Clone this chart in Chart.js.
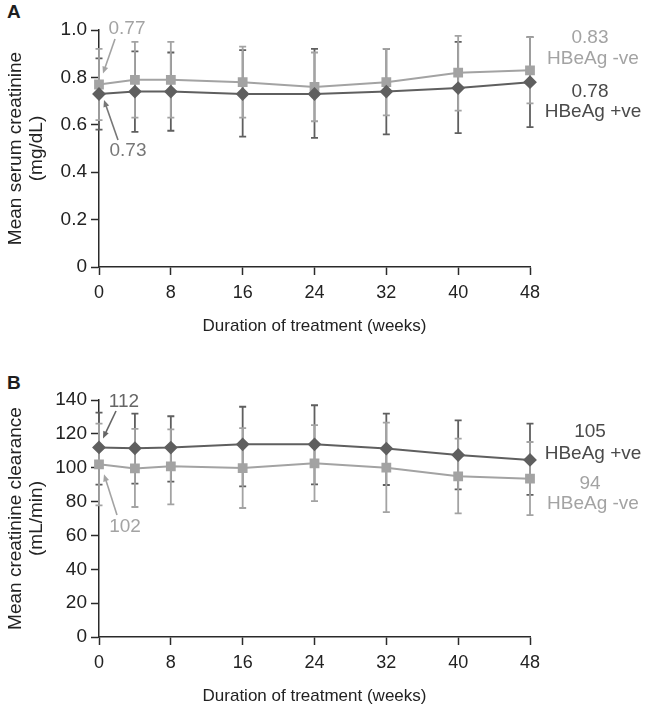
<!DOCTYPE html>
<html>
<head>
<meta charset="utf-8">
<script src="https://cdn.jsdelivr.net/npm/chart.js@4.4.0/dist/chart.umd.min.js"></script>
<style>
  body { margin: 0; background: #fff; }
  .panel { position: absolute; left: 0; width: 649px; height: 341px; }
  #panelA { top: 0; }
  #panelB { top: 370px; }
  .letter { position: absolute; left: 7px; font: bold 19px 'Liberation Sans', Arial, sans-serif; color: #1e1e1e; }
</style>
</head>
<body>
<div class="letter" style="top: 1px">A</div>
<div class="panel" id="panelA"><canvas id="chartA"></canvas></div>
<div class="letter" style="top: 372px">B</div>
<div class="panel" id="panelB"><canvas id="chartB"></canvas></div>
<script>
// weeks on treatment
const weeks = [0, 4, 8, 16, 24, 32, 40, 48];
const weekTicks = [0, 8, 16, 24, 32, 40, 48];

// A: serum creatinine (mg/dL), mean with upper/lower bar ends
const creatTicks = [0, 0.2, 0.4, 0.6, 0.8, 1.0];
const creatPos = [0.73, 0.74, 0.74, 0.73, 0.73, 0.74, 0.755, 0.78];
const creatPosHi = [0.88, 0.91, 0.905, 0.915, 0.92, 0.92, 0.95, 0.97];
const creatPosLo = [0.58, 0.57, 0.575, 0.55, 0.545, 0.56, 0.565, 0.59];
const creatNeg = [0.77, 0.79, 0.79, 0.78, 0.76, 0.78, 0.82, 0.83];
const creatNegHi = [0.92, 0.95, 0.95, 0.93, 0.905, 0.92, 0.975, 0.97];
const creatNegLo = [0.62, 0.63, 0.63, 0.63, 0.615, 0.64, 0.66, 0.69];

// B: creatinine clearance (mL/min)
const clearTicks = [0, 20, 40, 60, 80, 100, 120, 140];
const clearPos = [112, 111.5, 111.9, 113.8, 113.8, 111.3, 107.5, 104.6];
const clearPosHi = [132.5, 132, 130.4, 136, 136.9, 132, 128, 126];
const clearPosLo = [90, 90.6, 91.8, 89, 90.2, 89.8, 87.2, 83.9];
const clearNeg = [102, 99.6, 100.8, 99.8, 102.6, 100, 94.9, 93.5];
const clearNegHi = [126, 123, 122.7, 123.4, 125.2, 126.6, 117.2, 115.2];
const clearNegLo = [77.8, 76.8, 78.4, 76.2, 80.3, 73.8, 73, 72];

const DARK = '#5f5f5f';
const LIGHT = '#a3a3a3';
const AXIS = '#2a2a2a';
const FONT = "'Liberation Sans', Arial, Helvetica, sans-serif";

// vertical bars with small caps, drawn under the markers
const errorBars = {
  id: 'errorBars',
  beforeDatasetsDraw(chart) {
    const ctx = chart.ctx, xs = chart.scales.x, ys = chart.scales.y;
    chart.data.datasets.forEach(ds => {
      ctx.save();
      ctx.strokeStyle = ds.borderColor;
      ctx.lineWidth = 1.8;
      ds.data.forEach((p, i) => {
        const px = xs.getPixelForValue(p.x);
        const top = ys.getPixelForValue(ds.hi[i]);
        const bot = ys.getPixelForValue(ds.lo[i]);
        ctx.beginPath();
        ctx.moveTo(px, top); ctx.lineTo(px, bot);
        ctx.moveTo(px - 3.5, top); ctx.lineTo(px + 3.5, top);
        ctx.moveTo(px - 3.5, bot); ctx.lineTo(px + 3.5, bot);
        ctx.stroke();
      });
      ctx.restore();
    });
  }
};

function arrow(ctx, x1, y1, x2, y2, color) {
  const a = Math.atan2(y2 - y1, x2 - x1);
  ctx.strokeStyle = color;
  ctx.fillStyle = color;
  ctx.lineWidth = 1.6;
  ctx.beginPath();
  ctx.moveTo(x1, y1);
  ctx.lineTo(x2 - 5 * Math.cos(a), y2 - 5 * Math.sin(a));
  ctx.stroke();
  ctx.beginPath();
  ctx.moveTo(x2, y2);
  ctx.lineTo(x2 - 7 * Math.cos(a) + 3 * Math.sin(a), y2 - 7 * Math.sin(a) - 3 * Math.cos(a));
  ctx.lineTo(x2 - 7 * Math.cos(a) - 3 * Math.sin(a), y2 - 7 * Math.sin(a) + 3 * Math.cos(a));
  ctx.closePath();
  ctx.fill();
}

// start values with arrows, end values with group names
const notes = {
  id: 'notes',
  afterDatasetsDraw(chart, args, opts) {
    const ctx = chart.ctx, xs = chart.scales.x, ys = chart.scales.y;
    ctx.save();
    ctx.font = '19px ' + FONT;
    ctx.textAlign = 'center';
    ctx.textBaseline = 'middle';
    (opts.starts || []).forEach(n => {
      const ds = chart.data.datasets[n.ds];
      const p = ds.data[0];
      const px = xs.getPixelForValue(p.x), py = ys.getPixelForValue(p.y);
      ctx.fillStyle = n.color;
      ctx.fillText(n.fmt(p.y), n.tx, n.ty);
      arrow(ctx, n.from[0], n.from[1], px + n.to[0], py + n.to[1], n.color);
    });
    (opts.ends || []).forEach(n => {
      const ds = chart.data.datasets[n.ds];
      const p = ds.data[ds.data.length - 1];
      const py = ys.getPixelForValue(p.y);
      ctx.fillStyle = n.color;
      ctx.fillText(n.fmt(p.y), 590, py + n.dy[0]);
      ctx.fillText(ds.label, 593, py + n.dy[1]);
    });
    ctx.restore();
  }
};

function makeChart(id, cfg) {
  return new Chart(document.getElementById(id), {
    type: 'line',
    data: {
      datasets: [
        {
          label: 'HBeAg +ve',
          data: weeks.map((w, i) => ({ x: w, y: cfg.pos[i] })),
          hi: cfg.posHi, lo: cfg.posLo,
          borderColor: DARK, backgroundColor: DARK,
          borderWidth: 2, pointStyle: 'rectRot', pointRadius: 5.5,
          clip: false
        },
        {
          label: 'HBeAg -ve',
          data: weeks.map((w, i) => ({ x: w, y: cfg.neg[i] })),
          hi: cfg.negHi, lo: cfg.negLo,
          borderColor: LIGHT, backgroundColor: LIGHT,
          borderWidth: 2, pointStyle: 'rect', pointRadius: 5.5,
          clip: false
        }
      ]
    },
    options: {
      responsive: true,
      maintainAspectRatio: false,
      animation: false,
      events: [],
      layout: { padding: { top: 30, right: 119, bottom: 0, left: 0 } },
      plugins: {
        legend: { display: false },
        tooltip: { enabled: false },
        notes: cfg.notes
      },
      scales: {
        x: {
          type: 'linear', min: 0, max: 48,
          afterBuildTicks: s => { s.ticks = weekTicks.map(v => ({ value: v })); },
          afterFit: s => { s.height = 74; },
          grid: { drawOnChartArea: false, tickLength: 8, tickWidth: 1.5, tickColor: AXIS },
          border: { color: AXIS, width: 1.5 },
          ticks: { color: '#222', font: { family: FONT, size: 18 }, padding: 7 },
          title: {
            display: true, text: 'Duration of treatment (weeks)', color: '#222',
            font: { family: FONT, size: 17 }, padding: { top: 0, bottom: 4 }
          }
        },
        y: {
          min: cfg.ticks[0], max: cfg.ticks[cfg.ticks.length - 1],
          afterBuildTicks: s => { s.ticks = cfg.ticks.map(v => ({ value: v })); },
          afterFit: s => { s.width = 99; },
          grid: { drawOnChartArea: false, tickLength: 8, tickWidth: 1.5, tickColor: AXIS },
          border: { color: AXIS, width: 1.5 },
          ticks: {
            color: '#222', font: { family: FONT, size: 19 }, padding: 4,
            callback: cfg.tickFmt
          },
          title: {
            display: true, text: cfg.title, color: '#222',
            font: { family: FONT, size: 19, lineHeight: 1.08 }, padding: { top: 6, bottom: 0 }
          }
        }
      }
    },
    plugins: [errorBars, notes]
  });
}

const two = v => v.toFixed(2);
const whole = v => String(Math.round(v));

makeChart('chartA', {
  pos: creatPos, posHi: creatPosHi, posLo: creatPosLo,
  neg: creatNeg, negHi: creatNegHi, negLo: creatNegLo,
  ticks: creatTicks,
  tickFmt: v => v === 0 ? '0' : v.toFixed(1),
  title: ['Mean serum creatinine', '(mg/dL)'],
  notes: {
    starts: [
      { ds: 1, fmt: two, color: LIGHT, tx: 127, ty: 29, from: [115, 39], to: [4, -11] },
      { ds: 0, fmt: two, color: '#777', tx: 128, ty: 151, from: [118, 140], to: [5, 6] }
    ],
    ends: [
      { ds: 1, fmt: two, color: LIGHT, dy: [-33, -12] },
      { ds: 0, fmt: two, color: '#4a4a4a', dy: [10, 30] }
    ]
  }
});

makeChart('chartB', {
  pos: clearPos, posHi: clearPosHi, posLo: clearPosLo,
  neg: clearNeg, negHi: clearNegHi, negLo: clearNegLo,
  ticks: clearTicks,
  tickFmt: v => String(v),
  title: ['Mean creatinine clearance', '(mL/min)'],
  notes: {
    starts: [
      { ds: 0, fmt: whole, color: '#666', tx: 124, ty: 32, from: [116, 41], to: [4, -9] },
      { ds: 1, fmt: whole, color: LIGHT, tx: 125, ty: 157, from: [117, 145], to: [5, 10] }
    ],
    ends: [
      { ds: 0, fmt: whole, color: '#4a4a4a', dy: [-28, -6] },
      { ds: 1, fmt: whole, color: LIGHT, dy: [5, 25] }
    ]
  }
});
</script>
</body>
</html>
